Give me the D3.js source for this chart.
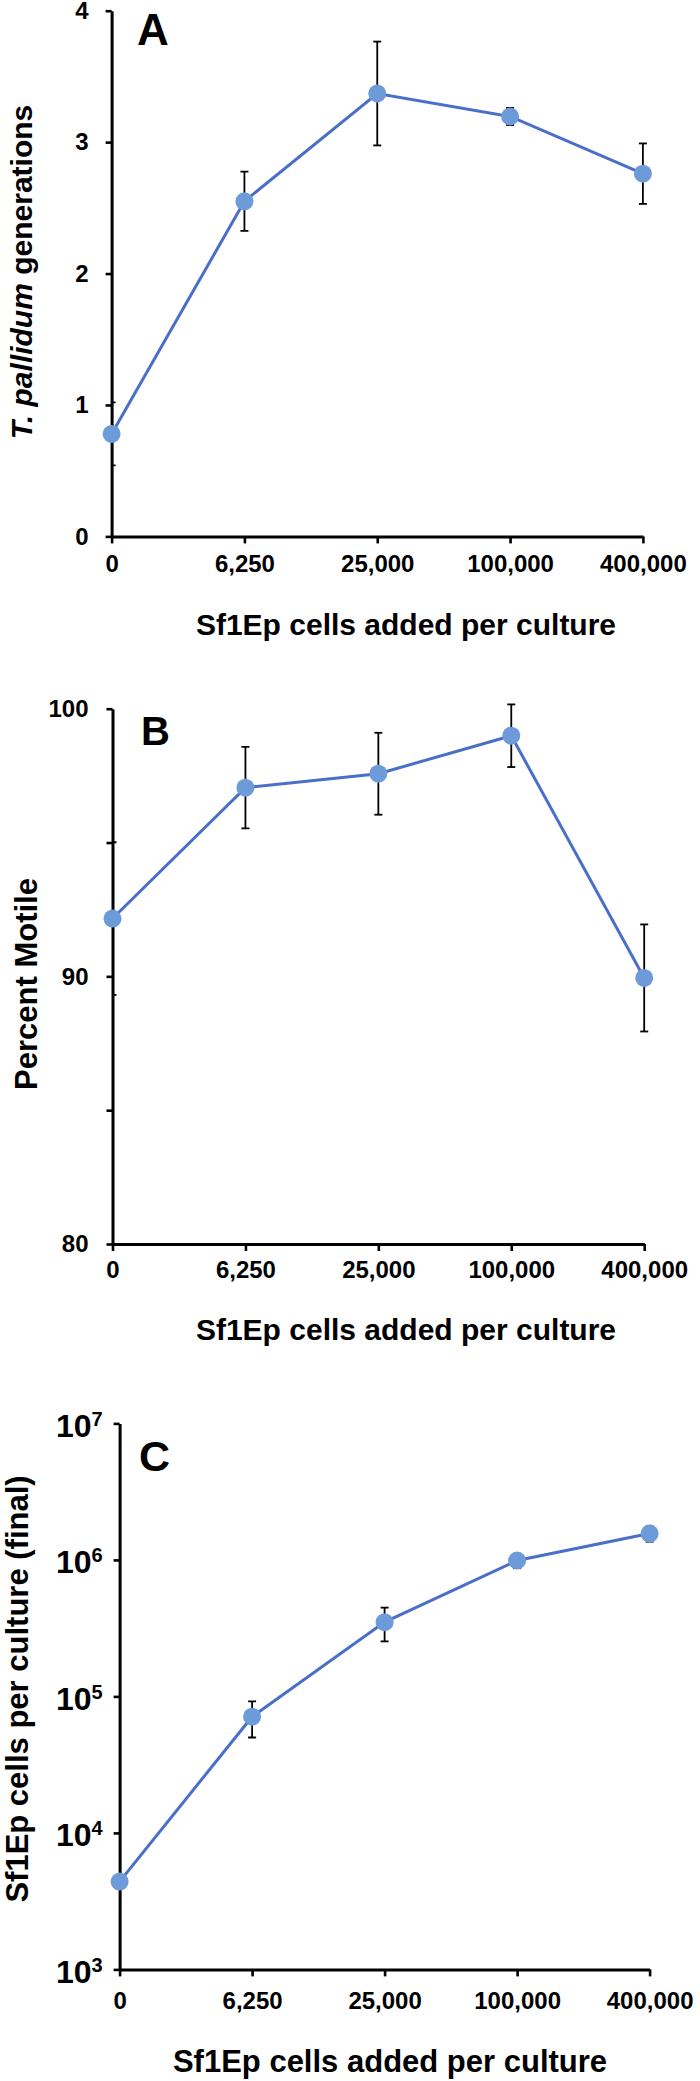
<!DOCTYPE html>
<html>
<head>
<meta charset="utf-8">
<script src="https://cdn.jsdelivr.net/npm/d3@7"></script>
<style>
  html, body { margin: 0; padding: 0; background: #fff; }
  svg { display: block; }
  text { font-family: "Liberation Sans", Arial, sans-serif; font-weight: bold; fill: #000; }
</style>
</head>
<body>
<script>
// ---------- data ----------
const categories = ["0", "6,250", "25,000", "100,000", "400,000"];

const genMean = [0.78, 2.55, 3.37, 3.195, 2.76];
const genErr  = [0.24, 0.225, 0.395, 0.065, 0.23];
const genTicks = [0, 1, 2, 3, 4];

const motileMean = [92.16, 97.05, 97.57, 98.99, 89.94];
const motileErr  = [2.85, 1.52, 1.53, 1.17, 2.0];
const motileTicks = [80, 85, 90, 95, 100];
const motileLabels = [80, 90, 100];

const cellsMean = [4400, 71000, 350000, 990000, 1560000];
const cellsErr  = [400, 21000, 97000, 120000, 200000];
const cellsTicks = [1e3, 1e4, 1e5, 1e6, 1e7];

const xTitle = "Sf1Ep cells added per culture";

// ---------- drawing ----------
const W = 700, H = 2081;
const svg = d3.select("body").append("svg").attr("width", W).attr("height", H);
svg.append("rect").attr("width", W).attr("height", H).attr("fill", "#fff");

const LINE = "#4a6fc8", MARK = "#6d9ad8";

function panel(cfg) {
  const g = svg.append("g");
  const x = d3.scalePoint().domain(categories).range([cfg.x0, cfg.x1]);
  const y = cfg.y;
  const data = categories.map((c, i) => ({c, v: cfg.mean[i], e: cfg.err[i]}));

  const cid = "clip" + cfg.id;
  svg.append("clipPath").attr("id", cid).append("rect")
    .attr("x", cfg.x0).attr("y", 0).attr("width", W - cfg.x0).attr("height", H);

  // y axis
  const yAxis = d3.axisLeft(y).tickValues(cfg.ticks).tickSize(6).tickSizeOuter(0).tickPadding(cfg.yPad)
    .tickFormat(cfg.yFmt || (d => d));
  const ya = g.append("g").attr("transform", `translate(${cfg.x0},0)`).call(yAxis);
  ya.select(".domain").attr("stroke", "#000").attr("stroke-width", 3);
  ya.selectAll(".tick line").attr("stroke", "#000").attr("stroke-width", 2.6);
  ya.selectAll(".tick text").style("font-size", cfg.yFont + "px").attr("font-family", null);
  if (cfg.yCustom) cfg.yCustom(ya);

  // x axis
  const xAxis = d3.axisBottom(x).tickSize(7).tickSizeOuter(0).tickPadding(cfg.xPad);
  const xa = g.append("g").attr("transform", `translate(0,${y.range()[0]})`).call(xAxis);
  xa.select(".domain").attr("stroke", "#000").attr("stroke-width", 3);
  xa.selectAll(".tick line").attr("stroke", "#000").attr("stroke-width", 2.6);
  xa.selectAll(".tick text").style("font-size", "24px").attr("font-family", null);

  // x title
  g.append("text").attr("x", cfg.xtX).attr("y", cfg.xtY).attr("text-anchor", "middle")
    .style("font-size", cfg.xtFont + "px").text(xTitle);

  // panel letter
  g.append("text").attr("x", cfg.lx).attr("y", cfg.ly).style("font-size", cfg.lFont + "px").text(cfg.letter);

  // y title
  const yt = g.append("text").attr("text-anchor", "middle")
    .attr("transform", `translate(${cfg.ytX},${cfg.ytY}) rotate(-90)`)
    .style("font-size", cfg.ytFont + "px");
  cfg.ytParts.forEach(p => yt.append("tspan").attr("font-style", p.italic ? "italic" : "normal").text(p.t));

  // line
  g.append("path").datum(data)
    .attr("d", d3.line().x(d => x(d.c)).y(d => y(d.v)))
    .attr("fill", "none").attr("stroke", LINE).attr("stroke-width", 3);

  // error bars
  const eb = g.append("g").attr("clip-path", `url(#${cid})`).attr("stroke", "#000").attr("stroke-width", 1.8);
  data.forEach(d => {
    const top = y(d.v + d.e), bot = y(d.v - d.e), cx = x(d.c);
    eb.append("line").attr("x1", cx).attr("x2", cx).attr("y1", top).attr("y2", bot);
    eb.append("line").attr("x1", cx - 4).attr("x2", cx + 4).attr("y1", top).attr("y2", top);
    eb.append("line").attr("x1", cx - 4).attr("x2", cx + 4).attr("y1", bot).attr("y2", bot);
  });

  // markers
  g.selectAll("circle.m").data(data).enter().append("circle")
    .attr("cx", d => x(d.c)).attr("cy", d => y(d.v)).attr("r", 9).attr("fill", MARK);
}

// Panel A
panel({
  id: "A", letter: "A", lx: 137, ly: 45, lFont: 44,
  x0: 111.6, x1: 642.9,
  y: d3.scaleLinear().domain([0, 4]).range([536.4, 10.7]),
  ticks: genTicks, yPad: 17, yFont: 24, xPad: 12,
  mean: genMean, err: genErr,
  xtX: 406, xtY: 635, xtFont: 30,
  ytX: 31.5, ytY: 272, ytFont: 30,
  ytParts: [{t: "T. pallidum", italic: true}, {t: " generations", italic: false}]
});

// Panel B
panel({
  id: "B", letter: "B", lx: 141, ly: 745, lFont: 40,
  x0: 112.5, x1: 644.2,
  y: d3.scaleLinear().domain([80, 100]).range([1244, 708.7]),
  ticks: motileTicks, yPad: 18, yFont: 24, xPad: 10,
  yFmt: d => motileLabels.includes(d) ? d : "",
  mean: motileMean, err: motileErr,
  xtX: 406, xtY: 1340, xtFont: 30,
  ytX: 37, ytY: 984, ytFont: 31,
  ytParts: [{t: "Percent Motile", italic: false}]
});

// Panel C
panel({
  id: "C", letter: "C", lx: 139, ly: 1471, lFont: 43,
  x0: 119.6, x1: 649.6,
  y: d3.scaleLog().domain([1e3, 1e7]).range([1969.4, 1423.4]),
  ticks: cellsTicks, yPad: 14, yFont: 32, xPad: 16,
  yFmt: d => "",
  yCustom: ya => {
    ya.selectAll(".tick").each(function(d) {
      const t = d3.select(this).append("text").attr("x", -17).attr("y", 13)
        .attr("text-anchor", "end").style("font-size", "32px");
      t.append("tspan").text("10");
      t.append("tspan").attr("dy", -11).style("font-size", "20px").text(Math.round(Math.log10(d)));
    });
  },
  mean: cellsMean, err: cellsErr,
  xtX: 390, xtY: 2072, xtFont: 31,
  ytX: 28, ytY: 1689, ytFont: 31,
  ytParts: [{t: "Sf1Ep cells per culture (final)", italic: false}]
});
</script>
</body>
</html>
